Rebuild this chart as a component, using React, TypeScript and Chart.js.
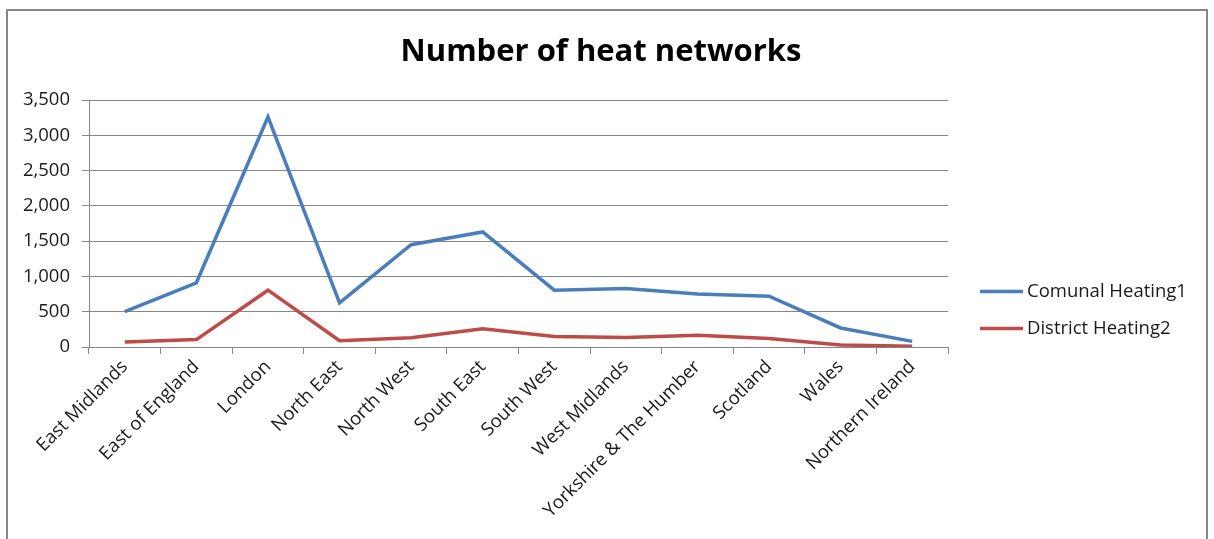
import React, { useEffect, useRef } from "react";
import { Chart, registerables } from "chart.js";

Chart.register(...registerables);

// ---- Data ----
const categories = [
  "East Midlands",
  "East of England",
  "London",
  "North East",
  "North West",
  "South East",
  "South West",
  "West Midlands",
  "Yorkshire & The Humber",
  "Scotland",
  "Wales",
  "Northern Ireland",
];
const communalHeating = [500, 910, 3260, 625, 1450, 1630, 805, 830, 750, 720, 270, 80];
const districtHeating = [70, 105, 805, 90, 130, 260, 150, 135, 165, 120, 30, 12];
const seriesNames = ["Comunal Heating1", "District Heating2"];
const seriesColors = ["#4A7EBB", "#BE4B48"];
const yMin = 0;
const yMax = 3500;
const yStep = 500;
const titleText = "Number of heat networks";

const FONT = "'Open Sans', 'Noto Sans', sans-serif";
const TEXT_COLOR = "#1a1a1a";
const GRID_COLOR = "#868686";

const framePlugin = {
  id: "frame",
  beforeDraw(chart: any) {
    const { ctx, width, height } = chart;
    ctx.save();
    ctx.fillStyle = "#ffffff";
    ctx.fillRect(0, 0, width, height);
    ctx.strokeStyle = "#878787";
    ctx.lineWidth = 2;
    ctx.strokeRect(7, 10, width - 14, height + 20);
    ctx.restore();
  },
};

const sideLegendPlugin = {
  id: "sideLegend",
  afterDraw(chart: any) {
    const { ctx, chartArea } = chart;
    const x0 = chartArea.right + 32;
    ctx.save();
    chart.data.datasets.forEach((ds: any, i: number) => {
      const y = chartArea.top + 191.5 + i * 37;
      ctx.strokeStyle = ds.borderColor;
      ctx.lineWidth = 3.5;
      ctx.beginPath();
      ctx.moveTo(x0, y);
      ctx.lineTo(x0 + 43, y);
      ctx.stroke();
      ctx.fillStyle = TEXT_COLOR;
      ctx.font = `18.5px ${FONT}`;
      ctx.textBaseline = "middle";
      ctx.textAlign = "left";
      ctx.fillText(ds.label, x0 + 47, y);
    });
    ctx.restore();
  },
};

export default function App() {
  const canvasRef = useRef<HTMLCanvasElement | null>(null);

  useEffect(() => {
    const canvas = canvasRef.current;
    if (!canvas) return;
    const chart = new Chart(canvas, {
      type: "line",
      data: {
        labels: categories,
        datasets: [
          {
            label: seriesNames[0],
            data: communalHeating,
            borderColor: seriesColors[0],
            backgroundColor: seriesColors[0],
            borderWidth: 3.5,
            pointRadius: 0,
            tension: 0,
          },
          {
            label: seriesNames[1],
            data: districtHeating,
            borderColor: seriesColors[1],
            backgroundColor: seriesColors[1],
            borderWidth: 3.5,
            pointRadius: 0,
            tension: 0,
          },
        ],
      },
      options: {
        responsive: false,
        animation: false,
        devicePixelRatio: 1,
        layout: { padding: { left: 0, right: 12, top: 0, bottom: 0 } },
        font: { family: FONT },
        plugins: {
          legend: { display: false },
          tooltip: { enabled: false },
          title: {
            display: true,
            text: titleText,
            color: "#000000",
            font: { family: FONT, size: 31, weight: "bold" },
            padding: { top: 33.4, bottom: 29.4 },
          },
        },
        scales: {
          x: {
            offset: true,
            grid: {
              offset: true,
              drawOnChartArea: false,
              drawTicks: true,
              tickLength: 7,
              color: GRID_COLOR,
            },
            border: { display: true, color: GRID_COLOR },
            ticks: {
              autoSkip: false,
              minRotation: 45,
              maxRotation: 45,
              padding: 2,
              color: TEXT_COLOR,
              font: { family: FONT, size: 18.5 },
            },
            afterFit(scale: any) {
              scale.height = 192;
            },
          },
          y: {
            min: yMin,
            max: yMax,
            grid: { color: GRID_COLOR, tickLength: 7, lineWidth: 1 },
            border: { display: true, color: GRID_COLOR },
            ticks: {
              stepSize: yStep,
              padding: 12,
              color: TEXT_COLOR,
              font: { family: FONT, size: 18.5 },
              callback: (v: any) => Number(v).toLocaleString("en-US"),
            },
            afterFit(scale: any) {
              scale.width = 89;
            },
          },
          legendSpace: {
            type: "linear",
            position: "right",
            display: true,
            grid: { display: false, drawTicks: false },
            border: { display: false },
            ticks: { display: false },
            afterFit(scale: any) {
              scale.width = 254;
            },
          },
        },
      },
      plugins: [framePlugin, sideLegendPlugin],
    });
    return () => chart.destroy();
  }, []);

  return (
    <div style={{ position: "absolute", left: 0, top: 0, width: 1214, height: 539 }}>
      <canvas ref={canvasRef} width={1214} height={539} style={{ display: "block" }} />
    </div>
  );
}
